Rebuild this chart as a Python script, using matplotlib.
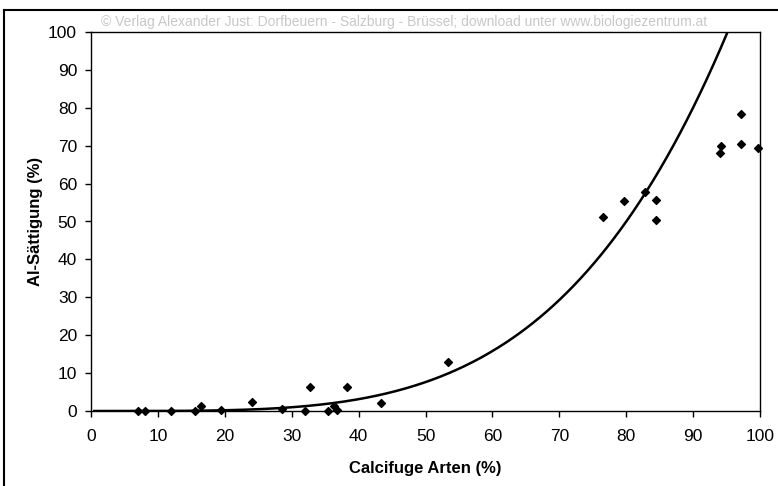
import matplotlib
matplotlib.use('Agg')
import matplotlib.pyplot as plt
import numpy as np

# ── data ─────────────────────────────────────────────────────────────────────
calcifuge = [7.0, 8.0, 12.0, 15.5, 16.5, 19.5, 24.0, 28.5, 32.0, 32.8, 35.5,
             36.3, 36.8, 38.3, 43.3, 53.4, 76.6, 79.6, 82.8, 84.4, 84.4,
             94.0, 94.2, 97.2, 97.2, 99.7]
al_saett = [0.0, 0.0, 0.0, 0.0, 1.2, 0.2, 2.5, 0.5, 0.0, 6.3, 0.0,
            1.3, 0.3, 6.3, 2.0, 13.0, 51.3, 55.5, 57.8, 55.7, 50.4,
            68.2, 69.9, 78.3, 70.4, 69.3]

# power trendline y = a * x^b (Excel-style fit)
trend_a = 1.22e-6
trend_b = 4.0

x_ticks = list(range(0, 101, 10))
y_ticks = list(range(0, 101, 10))

plt.rcParams['font.family'] = ['Liberation Sans', 'DejaVu Sans']

fig = plt.figure(figsize=(7.78, 4.86), dpi=100, facecolor='white')
ax = fig.add_axes([91/778, 1 - 411/486, (760-91)/778, (411-32)/486])

xs = np.linspace(0.5, 100, 400)
ys = trend_a * xs ** trend_b
ax.plot(xs, ys, color='black', lw=1.8, zorder=2, clip_on=True)
ax.scatter(calcifuge, al_saett, marker='D', s=16, color='black', zorder=3,
           clip_on=False)

ax.set_xlim(0, 100)
ax.set_ylim(0, 100)
ax.set_xticks(x_ticks)
ax.set_yticks(y_ticks)
ax.tick_params(direction='out', length=4, width=1, labelsize=12.5,
               colors='black')
ax.tick_params(axis='x', pad=9)
ax.tick_params(axis='y', pad=6)
for sp in ax.spines.values():
    sp.set_linewidth(1.0)
    sp.set_color('black')

ax.set_xlabel('Calcifuge Arten (%)', fontsize=12, fontweight='bold', labelpad=12)
ax.set_ylabel('Al-Sättigung (%)', fontsize=12, fontweight='bold', labelpad=4)

# outer chart border (top and left edges visible in the scan)
fig.add_artist(plt.Line2D([4/778, 4/778], [0, 1 - 10/486], color='black',
                          lw=1.5, transform=fig.transFigure))
fig.add_artist(plt.Line2D([4/778, 1], [1 - 10/486, 1 - 10/486], color='black',
                          lw=1.5, transform=fig.transFigure))

fig.text(404/778, 1 - 22/486,
         '© Verlag Alexander Just: Dorfbeuern - Salzburg - Brüssel; '
         'download unter www.biologiezentrum.at',
         ha='center', va='center', fontsize=10, color='#c8c8c8')

plt.savefig('out.png', dpi=100, facecolor='white')
plt.close()
